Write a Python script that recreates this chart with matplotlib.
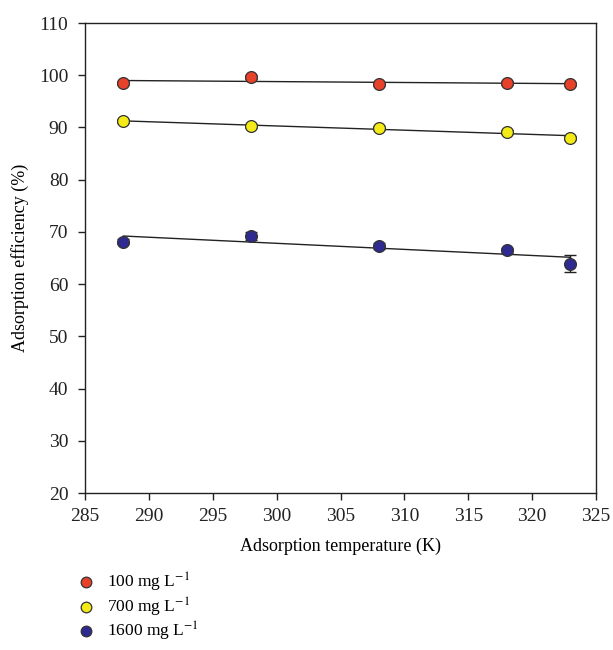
import numpy as np
import matplotlib.pyplot as plt

plt.rcParams['font.family'] = ['Liberation Serif', 'DejaVu Serif']
plt.rcParams['mathtext.fontset'] = 'stix'

# Adsorption temperature (K)
temperature = [288, 298, 308, 318, 323]

# Adsorption efficiency (%) for each initial concentration
eff_100 = [98.5, 99.7, 98.3, 98.5, 98.3]
err_100 = [0.4, 0.4, 0.4, 0.4, 0.4]
eff_700 = [91.2, 90.3, 89.9, 89.2, 88.0]
err_700 = [0.4, 0.4, 0.4, 0.4, 0.4]
eff_1600 = [68.1, 69.2, 67.3, 66.5, 63.9]
err_1600 = [0.5, 0.7, 0.5, 0.5, 1.6]

labels = ['100 mg L$^{-1}$', '700 mg L$^{-1}$', '1600 mg L$^{-1}$']
colors = ['#E8412A', '#F4EA16', '#2E2A90']

fig = plt.figure(figsize=(6.13, 6.5), dpi=100)
ax = fig.add_axes([0.1387, 0.2415, 0.8336, 0.7231])

x = np.array(temperature)
handles = []
for y, e, c, lab in zip([eff_100, eff_700, eff_1600],
                        [err_100, err_700, err_1600], colors, labels):
    # linear trend line
    k, b = np.polyfit(x, y, 1)
    ax.plot(x, k * x + b, color='#222222', lw=1.0, zorder=2)
    ax.errorbar(x, y, yerr=e, fmt='none', ecolor='#222222', elinewidth=1.0,
                capsize=4, capthick=1.0, zorder=3)
    h, = ax.plot(x, y, 'o', ms=8.5, mfc=c, mec='#333333', mew=0.9,
                 zorder=4, label=lab)
    handles.append(h)

ax.set_xlim(285, 325)
ax.set_ylim(20, 110)
ax.set_xticks(range(285, 326, 5))
ax.set_yticks(range(20, 111, 10))
ax.tick_params(direction='out', length=5, width=1, labelsize=14,
               colors='#222222')
ax.tick_params(axis='x', pad=6)
ax.tick_params(axis='y', pad=7)
for s in ax.spines.values():
    s.set_linewidth(1.0)
    s.set_color('#222222')

ax.set_xlabel('Adsorption temperature (K)', fontsize=13, labelpad=9)
ax.set_ylabel('Adsorption efficiency (%)', fontsize=13, labelpad=7)

leg = fig.legend(handles=handles, loc='upper left',
                 bbox_to_anchor=(0.115, 0.132), frameon=False,
                 fontsize=12.5, handlelength=1.0, handletextpad=0.7,
                 labelspacing=0.08, markerscale=0.9, borderaxespad=0)

fig.savefig('out.png', dpi=100)
